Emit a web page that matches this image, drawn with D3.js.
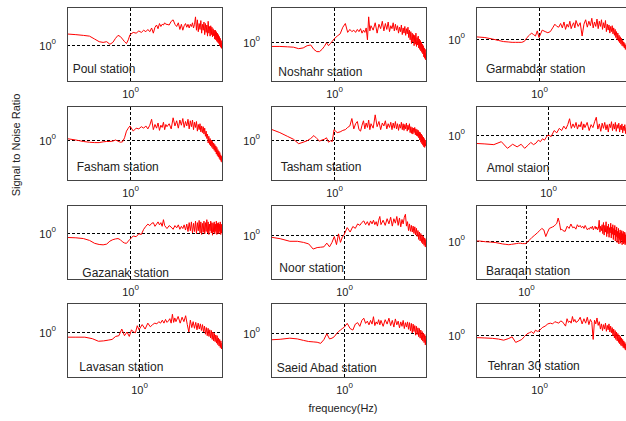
<!DOCTYPE html>
<html lang="en">
<head>
  <meta charset="UTF-8">
  <title>Signal to Noise Ratio by station</title>
  <style>
    body { margin: 0; background: #fff; }
    svg { display: block; font-family: "Liberation Sans", Arial, sans-serif; }
  </style>
  <script src="https://d3js.org/d3.v7.min.js"></script>
</head>
<body>
<div id="chart"></div>
<script>
  // Frequency bins (Hz), shared by all stations
  var freqs = [0.1,0.15,0.2,0.25,0.3,0.35,0.4,0.45,0.5,0.55,0.6,0.65,0.7,0.75,0.8,0.85,0.9,0.95,
    1,1.1,1.2,1.3,1.4,1.5,1.6,1.7,1.8,1.9,2,2.1,2.2,2.3,2.4,2.5,2.6,2.7,2.8,2.9,
    3,3.2,3.4,3.6,3.8,4,4.2,4.4,4.6,4.8,5,5.2,5.4,5.6,5.8,6,6.2,6.4,6.6,6.8,7,7.2,7.4,7.6,7.8,
    8,8.2,8.4,8.6,8.8,9,9.2,9.4,9.6,9.8,10,10.2,10.4,10.6,10.8,11,11.2,11.4,11.6,11.8,
    12,12.2,12.4,12.6,12.8,13,13.2,13.4,13.6,13.8,14,14.2,14.4,14.6,14.8,15,15.2,15.4,15.6,15.8,
    16,16.2,16.4,16.6,16.8,17,17.2,17.4,17.6,17.8,18,18.2,18.4,18.6,18.8,19,19.2,19.4,19.6,19.8,20,20.2];

  var stations = ["Poul station", "Noshahr station", "Garmabdar station",
    "Fasham station", "Tasham station", "Amol staion",
    "Gazanak station", "Noor station", "Baraqan station",
    "Lavasan station", "Saeid Abad station", "Tehran 30 station"];

  // log10 of the signal to noise ratio, one value per frequency bin
  var poulLogSnr = [0.15,0.15,0.14,0.13,0.12,0.08,0.045,0.035,0.045,0.01,0.035,0.09,0.13,0.115,0.08,0.045,0.02,0.07,
    0.14,0.17,0.16,0.19,0.17,0.2,0.18,0.21,0.18,0.23,0.16,0.24,0.27,0.22,0.29,0.25,0.28,0.27,0.3,0.28,
    0.28,0.27,0.32,0.34,0.28,0.25,0.3,0.21,0.28,0.2,0.26,0.29,0.24,0.28,0.23,0.28,0.25,0.3,0.23,0.28,
    0.38,0.2,0.34,0.18,0.29,0.21,0.33,0.16,0.28,0.2,0.31,0.14,0.29,0.17,0.27,0.12,0.32,0.16,0.25,0.12,
    0.26,0.14,0.24,0.11,0.22,0.125,0.2,0.08,0.2,0.07,0.18,0.05,0.16,0.035,0.14,0.02,0.115,-0.01,0.09,-0.03,
    0.06,-0.045,0.03,-0.04,-0.01];
  var noshahrLogSnr = [-0.06,-0.06,-0.06,-0.065,-0.07,-0.09,-0.08,-0.05,-0.04,-0.1,-0.13,-0.13,-0.1,-0.06,-0.01,-0.05,-0.02,0.01,
    0.04,0.08,0.11,0.2,0.25,0.13,0.17,0.14,0.16,0.13,0.17,0.14,0.18,0.12,0.16,0.13,0.19,0.03,0.34,0.15,
    0.22,0.16,0.26,0.12,0.24,0.18,0.28,0.15,0.25,0.17,0.27,0.14,0.22,0.18,0.26,0.15,0.24,0.16,0.22,0.12,
    0.2,0.14,0.23,0.1,0.19,0.12,0.21,0.09,0.18,0.11,0.2,0.06,0.16,0.03,0.14,-0.02,0.12,0.0,0.1,-0.05,
    0.09,-0.03,0.12,-0.06,0.06,-0.04,0.08,-0.08,0.04,-0.1,0.02,-0.12,0.0,-0.14,-0.03,-0.16,-0.05,-0.2,-0.08,-0.22,
    -0.1,-0.24,-0.15];
  var garmabdarLogSnr = [0.04,0.03,0.02,0.0,-0.02,-0.035,-0.04,-0.045,-0.045,-0.045,-0.045,-0.03,0.02,0.05,0.08,0.06,0.04,0.11,
    0.02,0.12,0.1,0.085,0.1,0.15,0.2,0.17,0.16,0.21,0.15,0.23,0.13,0.2,0.16,0.24,0.14,0.19,0.22,0.15,
    0.25,0.17,0.22,0.04,0.2,0.26,0.16,0.24,0.18,0.28,0.15,0.23,0.17,0.27,0.14,0.24,0.17,0.26,0.13,0.22,
    0.15,0.25,0.1,0.2,0.12,0.19,0.08,0.17,0.1,0.18,0.07,0.15,0.05,0.13,0.02,0.1,-0.01,0.08,-0.03,0.05,
    -0.05,0.03,-0.07,0.01,-0.09,-0.02,-0.1,-0.04,-0.12,-0.06,-0.14,-0.08,-0.15,-0.1,-0.17,-0.12,-0.19,-0.14,-0.2,-0.16,
    -0.22,-0.18];
  var fashamLogSnr = [0.03,0.02,0.0,-0.02,-0.03,-0.035,-0.035,-0.025,-0.02,-0.02,-0.015,0.0,-0.015,-0.03,-0.025,0.03,0.12,0.16,
    0.19,0.12,0.16,0.15,0.18,0.16,0.19,0.15,0.2,0.28,0.14,0.21,0.16,0.23,0.13,0.2,0.17,0.24,0.14,0.21,
    0.18,0.22,0.15,0.3,0.19,0.26,0.16,0.27,0.2,0.29,0.17,0.25,0.19,0.28,0.15,0.26,0.18,0.27,0.14,0.24,
    0.17,0.25,0.12,0.21,0.14,0.22,0.11,0.19,0.1,0.18,0.08,0.16,0.05,0.12,0.02,0.08,-0.04,0.05,-0.06,0.02,
    -0.08,0.0,-0.1,-0.02,-0.12,-0.04,-0.14,-0.06,-0.16,-0.08,-0.19,-0.1,-0.21,-0.13,-0.23,-0.15,-0.25,-0.17,-0.27,-0.2,
    -0.29,-0.22,-0.3,-0.25,-0.31];
  var tashamLogSnr = [0.17,0.15,0.1,0.05,0.01,-0.05,-0.03,-0.01,0.02,0.06,0.02,-0.015,0.0,0.01,0.03,-0.03,-0.01,-0.02,
    0.14,0.1,0.11,0.13,0.14,0.17,0.19,0.29,0.15,0.22,0.25,0.14,0.12,0.2,0.26,0.15,0.23,0.17,0.27,0.14,
    0.22,0.16,0.34,0.18,0.25,0.14,0.23,0.19,0.26,0.15,0.22,0.17,0.24,0.14,0.23,0.16,0.25,0.15,0.22,0.13,
    0.21,0.16,0.24,0.14,0.22,0.13,0.21,0.15,0.23,0.12,0.2,0.14,0.22,0.1,0.18,0.09,0.17,0.08,0.16,0.1,
    0.17,0.07,0.15,0.06,0.14,0.05,0.13,0.03,0.11,0.0,0.1,-0.03,0.08,-0.05,0.06,-0.07,0.04,-0.09,0.02,-0.1,
    0.0,-0.08,-0.05];
  var amolLogSnr = [-0.11,-0.12,-0.13,-0.09,-0.18,-0.125,-0.16,-0.125,-0.18,-0.14,-0.1,-0.13,-0.11,-0.07,-0.09,-0.05,-0.07,-0.03,
    0.0,-0.02,0.06,0.03,0.09,0.06,0.12,0.08,0.14,0.22,0.09,0.15,0.1,0.17,0.08,0.14,0.11,0.18,0.07,0.15,
    0.1,0.17,0.06,0.14,0.1,0.18,0.24,0.08,0.15,0.05,0.16,0.09,0.17,0.07,0.14,0.04,0.15,0.1,0.18,0.06,
    0.15,0.08,0.17,0.05,0.14,0.09,0.16,0.04,0.13,0.07,0.15,0.03,0.12,0.06,0.14,0.02,0.1,0.05];
  var gazanakLogSnr = [-0.06,-0.06,-0.065,-0.075,-0.1,-0.14,-0.155,-0.16,-0.15,-0.11,-0.09,-0.08,-0.075,-0.09,-0.12,-0.135,-0.14,-0.11,
    -0.085,-0.04,-0.05,-0.01,-0.02,0.05,0.09,0.12,0.1,0.13,0.14,0.09,0.12,0.15,0.11,0.14,0.09,0.18,0.1,0.08,
    0.06,0.1,0.08,0.05,0.1,0.07,0.11,0.05,0.09,0.06,0.11,0.04,0.12,0.02,0.14,0.03,0.15,0.0,0.13,0.02,
    0.16,-0.01,0.14,0.03,0.17,0.0,0.15,-0.02,0.13,0.01,0.16,-0.01,0.14,0.02,0.18,0.0,0.15,-0.02,0.12,0.03,
    0.16,0.0,0.14,-0.03,0.13,0.01,0.15,-0.01,0.12,0.02,0.16,-0.02,0.13,0.0,0.14,-0.01,0.12,0.02,0.15,-0.02,
    0.12,0.0,0.11,-0.03,0.08];
  var noorLogSnr = [-0.02,-0.05,-0.085,-0.085,-0.1,-0.12,-0.19,-0.17,-0.165,-0.16,-0.11,-0.16,-0.1,-0.02,-0.13,0.015,-0.1,-0.03,
    0.0,0.1,0.04,0.115,0.09,0.15,0.13,0.17,0.19,0.14,0.18,0.13,0.19,0.15,0.2,0.14,0.18,0.12,0.2,0.25,
    0.14,0.2,0.13,0.22,0.15,0.24,0.12,0.22,0.16,0.25,0.13,0.23,0.11,0.21,0.15,0.24,0.28,0.12,0.18,0.06,
    0.15,0.05,0.13,0.04,0.12,0.02,0.11,0.0,0.09,-0.02,0.06,-0.06,0.04,-0.08,0.02,-0.1,0.0,-0.12,-0.02,-0.14,
    -0.04,-0.16,-0.06,-0.18,-0.1];
  var baraqanLogSnr = [0.0,0.0,0.0,0.0,-0.01,-0.015,-0.02,-0.03,-0.04,-0.045,-0.05,-0.045,-0.04,-0.035,-0.03,-0.03,-0.035,-0.035,
    -0.035,0.01,0.05,0.08,0.11,0.14,0.17,0.15,0.06,0.12,0.17,0.18,0.19,0.2,0.22,0.24,0.31,0.25,0.15,0.16,
    0.14,0.13,0.2,0.17,0.23,0.18,0.19,0.16,0.22,0.19,0.21,0.18,0.2,0.17,0.21,0.18,0.15,0.17,0.16,0.19,
    0.17,0.2,0.15,0.18,0.2,0.16,0.19,0.15,0.17,0.28,0.12,0.2,0.14,0.22,0.1,0.25,0.08,0.21,0.12,0.26,
    0.06,0.2,0.1,0.23,0.05,0.18,0.11,0.24,0.04,0.19,0.09,0.22,0.02,0.17,0.08,0.21,0.0,0.15,0.06,0.19,
    -0.02,0.13,0.04,0.17,-0.04,0.11,0.02,0.15,-0.03,0.12,0.01,0.14,-0.05,0.1,0.0,0.13,-0.04,0.09,-0.02,0.12,
    -0.05,0.08,-0.03,0.1,-0.06,0.05,-0.02];
  var lavasanLogSnr = [-0.07,-0.07,-0.07,-0.09,-0.125,-0.12,-0.11,-0.1,-0.06,-0.05,0.04,-0.05,0.0,-0.06,0.03,0.0,-0.01,0.085,
    0.03,0.1,0.04,0.12,0.07,0.1,0.12,0.11,0.14,0.12,0.16,0.12,0.17,0.13,0.15,0.18,0.12,0.24,0.13,0.19,
    0.14,0.21,0.12,0.2,0.14,0.22,0.1,0.0,0.16,0.06,0.14,0.05,0.13,0.03,0.12,0.04,0.11,0.02,0.1,0.0,
    0.08,-0.03,0.06,-0.05,0.05,-0.06,0.03,-0.08,0.02,-0.1,0.0,-0.12,-0.02,-0.13,-0.04,-0.15,-0.05,-0.17,-0.08,-0.19,
    -0.1,-0.21,-0.12,-0.23,-0.15,-0.24];
  var saeidAbadLogSnr = [-0.095,-0.085,-0.07,-0.08,-0.1,-0.115,-0.12,-0.125,-0.14,-0.09,-0.01,-0.08,-0.07,-0.05,-0.01,0.02,0.04,0.06,
    0.075,0.13,0.06,0.04,0.12,0.14,0.09,0.17,0.2,0.13,0.16,0.11,0.17,0.12,0.22,0.1,0.15,0.12,0.18,0.11,
    0.17,0.09,0.18,0.12,0.2,0.1,0.17,0.08,0.19,0.11,0.16,0.07,0.15,0.09,0.17,0.06,0.14,0.08,0.15,0.05,
    0.14,0.03,0.13,0.0,0.12,0.02,0.1,-0.03,0.09,-0.02,0.07,-0.05,0.06,-0.07,0.04,-0.09,0.02,-0.11,0.0,-0.13,
    -0.02,-0.16,-0.04,-0.18,-0.08];
  var tehranLogSnr = [-0.035,-0.035,-0.04,-0.045,-0.055,-0.07,-0.05,-0.025,-0.1,-0.08,-0.06,-0.02,0.015,0.03,0.045,0.02,0.065,0.05,
    0.055,0.1,0.12,0.15,0.16,0.15,0.18,0.17,0.16,0.19,0.18,0.15,0.12,0.22,0.17,0.19,0.16,0.25,0.18,0.21,
    0.17,0.19,0.24,0.15,0.22,0.16,0.24,0.14,0.21,0.17,-0.06,0.2,0.15,0.23,0.13,0.18,0.08,0.15,0.06,0.14,
    0.08,0.16,0.05,0.13,0.07,0.15,0.04,0.12,0.03,0.1,-0.01,0.08,-0.04,0.06,-0.06,0.04,-0.08,0.02,-0.1,0.0,
    -0.12,-0.02,-0.14,-0.04,-0.15,-0.06,-0.17,-0.08,-0.18,-0.1,-0.2,-0.12,-0.21,-0.13];

  var logSnr = [poulLogSnr, noshahrLogSnr, garmabdarLogSnr, fashamLogSnr, tashamLogSnr, amolLogSnr,
    gazanakLogSnr, noorLogSnr, baraqanLogSnr, lavasanLogSnr, saeidAbadLogSnr, tehranLogSnr];

  // axis limits of each panel
  var xLim = [[0.1538,15.38],[0.1538,15.38],[0.1538,15.38],[0.1538,15.38],[0.1538,15.38],[0.1178,11.78],
    [0.1538,15.38],[0.1143,11.43],[0.2265,22.65],[0.1178,11.78],[0.1143,11.43],[0.1538,15.38]];
  var yLim = [[0.3263,3.263],[0.2972,2.972],[0.2707,2.707],[0.2881,2.881],[0.2881,2.881],[0.2466,2.466],
    [0.2390,2.390],[0.2543,2.543],[0.3066,3.066],[0.2466,2.466],[0.2543,2.543],[0.2707,2.707]];

  // layout
  var width = 626, height = 421;
  var colX = [67, 271, 476], rowY = [7, 106, 205, 303];
  var pw = 155, ph = 74;
  var labelPos = [[5.7,66],[7.3,69],[10,66],[9.7,65],[9.7,65],[10.7,66],
    [15.3,71.5],[8.3,67],[10,69.5],[12.3,68],[5.7,69],[11.7,66.5]];

  var svg = d3.select("#chart")
          .append("svg")
          .attr("width", width)
          .attr("height", height);

  function power(sel) {
    sel.selectAll(".tick text").each(function() {
      var t = d3.select(this).text("10");
      t.append("tspan").attr("dy", -6).attr("font-size", 8).text("0");
    });
  }

  stations.forEach(function(name, i) {
    var col = i % 3, row = Math.floor(i / 3);
    var g = svg.append("g")
            .attr("transform", "translate(" + colX[col] + "," + rowY[row] + ")");

    var x = d3.scaleLog().domain(xLim[i]).range([0, pw]);
    var y = d3.scaleLog().domain(yLim[i]).range([ph, 0]);

    // dashed grid at 10^0 with its labels
    var yAxis = g.append("g")
            .call(d3.axisLeft(y).tickValues([1]).tickSize(-pw).tickPadding(11));
    var xAxis = g.append("g")
            .attr("transform", "translate(0," + ph + ")")
            .call(d3.axisBottom(x).tickValues([1]).tickSize(-ph).tickPadding(9));
    [yAxis, xAxis].forEach(function(a) {
      a.select(".domain").remove();
      a.attr("font-size", 11).attr("font-family", null);
      a.selectAll(".tick line").attr("stroke", "#000").attr("stroke-dasharray", "3,2");
      a.selectAll(".tick text").attr("fill", "#222");
      power(a);
    });
    yAxis.selectAll(".tick text").attr("dy", "0.42em");

    g.append("clipPath")
            .attr("id", "clip" + i)
            .append("rect")
            .attr("width", pw + 1)
            .attr("height", ph + 1);

    var points = logSnr[i].map(function(v, k) {
      return { f: freqs[k], snr: Math.pow(10, v) };
    });
    var line = d3.line()
            .x(function(d) { return x(d.f); })
            .y(function(d) { return y(d.snr); });
    g.append("path")
            .datum(points)
            .attr("clip-path", "url(#clip" + i + ")")
            .attr("d", line)
            .attr("fill", "none")
            .attr("stroke", "#ff0000")
            .attr("stroke-width", 1);

    g.append("rect")
            .attr("x", 0.5)
            .attr("y", 0.5)
            .attr("width", pw)
            .attr("height", ph)
            .attr("fill", "none")
            .attr("stroke", "#444");

    g.append("text")
            .attr("x", labelPos[i][0])
            .attr("y", labelPos[i][1])
            .attr("font-size", 12)
            .attr("fill", "#222")
            .text(name);
  });

  svg.append("text")
          .attr("transform", "translate(20,145) rotate(-90)")
          .attr("text-anchor", "middle")
          .attr("font-size", 11)
          .attr("fill", "#222")
          .text("Signal to Noise Ratio");

  svg.append("text")
          .attr("x", 343)
          .attr("y", 412)
          .attr("text-anchor", "middle")
          .attr("font-size", 11)
          .attr("fill", "#222")
          .text("frequency(Hz)");
</script>
</body>
</html>
